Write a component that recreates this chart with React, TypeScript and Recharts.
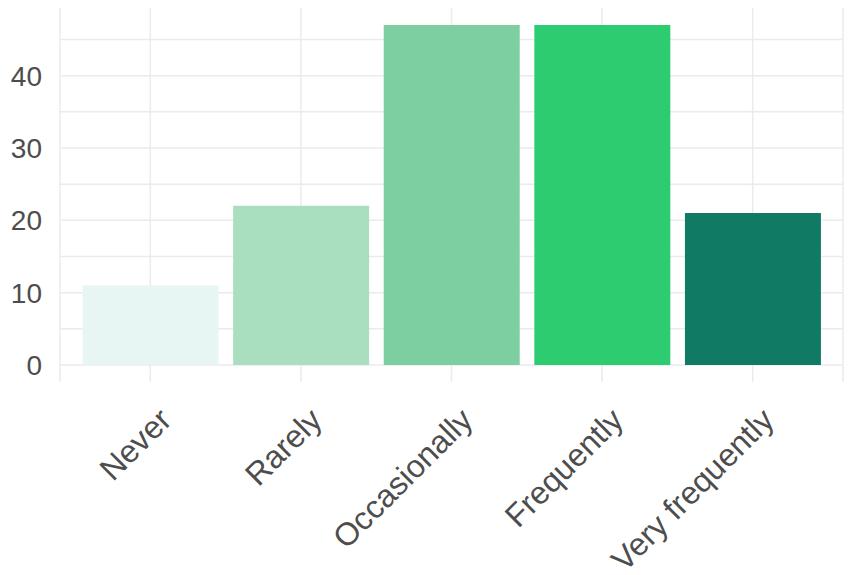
import React from "react";
import { BarChart, Bar, XAxis, YAxis, CartesianGrid, Cell } from "recharts";

const categories = ["Never", "Rarely", "Occasionally", "Frequently", "Very frequently"];
const counts = [11, 22, 47, 47, 21];
const barColors = ["#E8F6F3", "#A9DFBF", "#7DCEA0", "#2ECC71", "#117A65"];
const yTicks = [0, 10, 20, 30, 40];
const gridValues = [0, 5, 10, 15, 20, 25, 30, 35, 40, 45];

const data = categories.map((c, i) => ({ category: c, count: counts[i] }));

const FONT = "'Liberation Sans', Arial, sans-serif";
const TEXT = "#4d4d4d";

const XTick = (props: any) => {
  const { x, y, payload } = props;
  const ax = x + 23;
  const ay = y + 40;
  return (
    <text
      x={ax}
      y={ay}
      textAnchor="end"
      transform={`rotate(-45, ${ax}, ${ay})`}
      fontFamily={FONT}
      fontSize={32}
      fill={TEXT}
    >
      {payload.value}
    </text>
  );
};

export default function App() {
  return (
    <div style={{ position: "absolute", left: 0, top: 0, width: 851, height: 575, background: "#fff" }}>
      <BarChart
        width={851}
        height={575}
        data={data}
        margin={{ top: 8, right: 8, bottom: 0, left: 0 }}
        barCategoryGap="5%"
      >
        <CartesianGrid
          stroke="#ebebeb"
          strokeWidth={1.5}
          horizontalValues={gridValues}
          vertical={true}
        />
        <XAxis
          dataKey="category"
          height={193}
          axisLine={false}
          tickLine={false}
          tickSize={0}
          tickMargin={0}
          padding={{ left: 15, right: 15 }}
          interval={0}
          tick={<XTick />}
        />
        <YAxis
          width={60}
          type="number"
          domain={[-2.35, 49.35]}
          ticks={yTicks}
          allowDataOverflow
          axisLine={false}
          tickLine={false}
          tickSize={0}
          tickMargin={18}
          tick={{ fontFamily: FONT, fontSize: 28, fill: TEXT }}
        />
        <Bar dataKey="count" isAnimationActive={false}>
          {data.map((d, i) => (
            <Cell key={d.category} fill={barColors[i]} />
          ))}
        </Bar>
      </BarChart>
    </div>
  );
}
